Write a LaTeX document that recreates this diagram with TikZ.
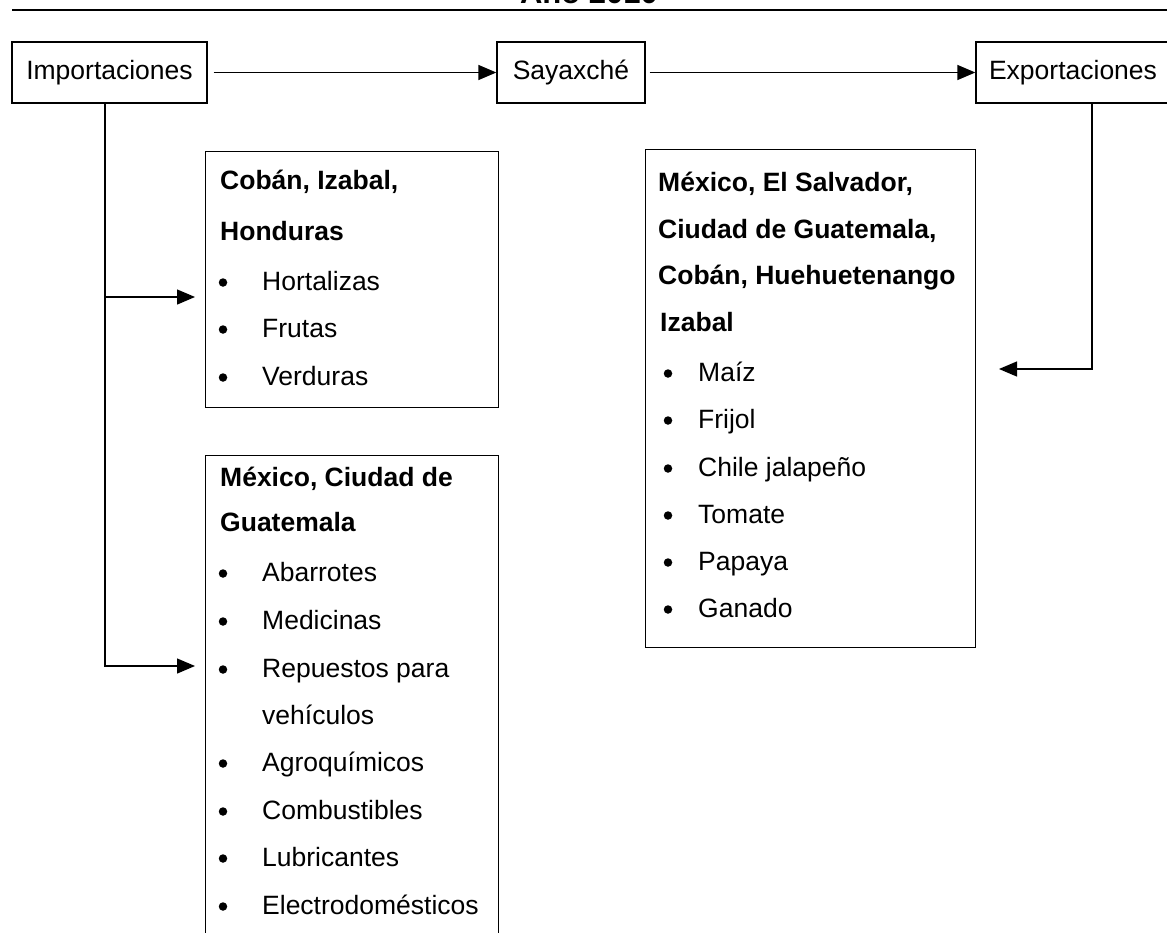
\documentclass[tikz,border=0pt]{standalone}
\usepackage{fontspec}
\setmainfont{Liberation Sans}
\usetikzlibrary{arrows.meta}
\tikzset{
  ln/.style={line width=1.3pt},
  topbox/.style={draw, ln, minimum height=61pt, inner sep=0pt, font=\fontsize{26.5}{30}\selectfont},
  listbox/.style={draw, ln, anchor=north west, inner sep=0pt},
  lbl/.style={anchor=base west, inner sep=0pt, font=\fontsize{26.5}{30}\selectfont},
  hdr/.style={lbl, font=\fontsize{26.5}{30}\selectfont\bfseries},
  bul/.style={circle, fill=black, inner sep=0pt, minimum size=8.5pt},
  arr/.style={ln, -{Triangle[length=18pt,width=15pt]}}
}
\begin{document}
\begin{tikzpicture}[x=1pt,y=-1pt]
\useasboundingbox (0,0) rectangle (1167,932);
% title (cut off by the page edge) and rule
\node[anchor=base, inner sep=0pt, font=\fontsize{31}{34}\selectfont\bfseries] (title) at (589,3) {Año 2010};
\coordinate (r1) at (12,10);
\coordinate (r2) at (1170,10);
\draw[line width=1.5pt] (r1) -- (r2);

% top row
\node[topbox, minimum width=195pt] (imp) at (109.5,72.5) {Importaciones};
\node[topbox, minimum width=148pt] (say) at (571,72.5) {Sayaxché};
\node[topbox, minimum width=194pt] (exp) at (1073,72.5) {Exportaciones};

\draw[arr] ([xshift=6pt]imp.east) -- (say.west);
\draw[arr] ([xshift=4pt]say.east) -- (exp.west);

% box 1
\node[listbox, minimum width=293pt, minimum height=256pt] (b1) at (205,151) {};
\node[hdr] (b1h1) at (220,189.5) {Cobán, Izabal,};
\node[hdr] (b1h2) at (220,240.5) {Honduras};
\node[bul] (b1d1) at (223,282.5) {};
\node[lbl] (b1i1) at (262,290.5) {Hortalizas};
\node[bul] (b1d2) at (223,329.5) {};
\node[lbl] (b1i2) at (262,337.5) {Frutas};
\node[bul] (b1d3) at (223,377.5) {};
\node[lbl] (b1i3) at (262,385.5) {Verduras};

% box 2
\node[listbox, minimum width=293pt, minimum height=500pt] (b2) at (205,455) {};
\node[hdr] (b2h1) at (220,486.5) {México, Ciudad de};
\node[hdr] (b2h2) at (220,531.5) {Guatemala};
\node[bul] (b2d1) at (223,573.5) {};
\node[lbl] (b2i1) at (262,581.5) {Abarrotes};
\node[bul] (b2d2) at (223,621.5) {};
\node[lbl] (b2i2) at (262,629.5) {Medicinas};
\node[bul] (b2d3) at (223,669.5) {};
\node[lbl] (b2i3) at (262,677.5) {Repuestos para};
\node[lbl] (b2i3b) at (262,724.5) {vehículos};
\node[bul] (b2d4) at (223,763.5) {};
\node[lbl] (b2i4) at (262,771.5) {Agroquímicos};
\node[bul] (b2d5) at (223,811.5) {};
\node[lbl] (b2i5) at (262,819.5) {Combustibles};
\node[bul] (b2d6) at (223,858.5) {};
\node[lbl] (b2i6) at (262,866.5) {Lubricantes};
\node[bul] (b2d7) at (223,906.5) {};
\node[lbl] (b2i7) at (262,914.5) {Electrodomésticos};

% box 3
\node[listbox, minimum width=330pt, minimum height=498pt] (b3) at (645,149) {};
\node[hdr] (b3h1) at (658,191.5) {México, El Salvador,};
\node[hdr] (b3h2) at (658,238.5) {Ciudad de Guatemala,};
\node[hdr] (b3h3) at (658,284.5) {Cobán, Huehuetenango};
\node[hdr] (b3h4) at (660,331.5) {Izabal};
\node[bul] (b3d1) at (668,373.5) {};
\node[lbl] (b3i1) at (698,381.5) {Maíz};
\node[bul] (b3d2) at (668,420.5) {};
\node[lbl] (b3i2) at (698,428.5) {Frijol};
\node[bul] (b3d3) at (668,468.5) {};
\node[lbl] (b3i3) at (698,476.5) {Chile jalapeño};
\node[bul] (b3d4) at (668,515.5) {};
\node[lbl] (b3i4) at (698,523.5) {Tomate};
\node[bul] (b3d5) at (668,562.5) {};
\node[lbl] (b3i5) at (698,570.5) {Papaya};
\node[bul] (b3d6) at (668,609.5) {};
\node[lbl] (b3i6) at (698,617.5) {Ganado};

% connectors from Importaciones
\coordinate (j1) at (105,297);
\coordinate (j2) at (105,666);
\draw[arr] (imp.south -| j1) -- (j1) -- ([xshift=-10pt]b1.west |- j1);
\draw[arr] (imp.south -| j2) -- (j2) -- ([xshift=-10pt]b2.west |- j2);

% connector from Exportaciones
\coordinate (e1) at (1092,369);
\coordinate (e2) at (999,369);
\draw[arr] (exp.south -| e1) -- (e1) -- (e2);
\end{tikzpicture}
\end{document}
